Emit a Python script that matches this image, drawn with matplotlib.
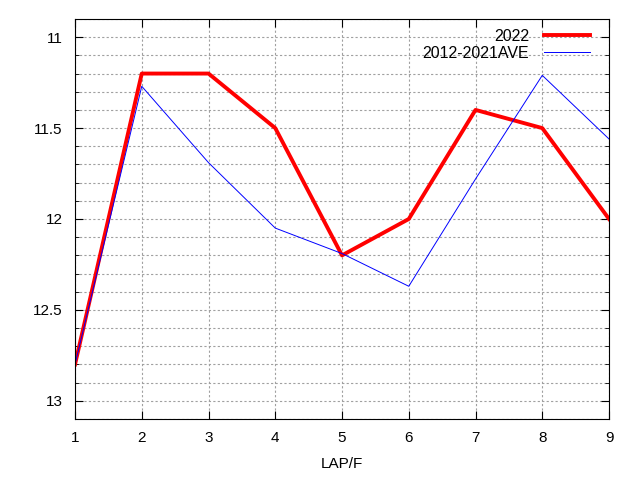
import matplotlib
matplotlib.use('Agg')
import matplotlib.pyplot as plt
from matplotlib.ticker import MultipleLocator, FuncFormatter

laps = [1, 2, 3, 4, 5, 6, 7, 8, 9]
y2022 = [12.8, 11.2, 11.2, 11.5, 12.2, 12.0, 11.4, 11.5, 12.0]
ave = [12.8, 11.27, 11.69, 12.05, 12.19, 12.37, 11.78, 11.21, 11.56]

plt.rcParams['font.family'] = ['Liberation Sans', 'DejaVu Sans']

fig = plt.figure(figsize=(6.4, 4.8), dpi=100)
ax = fig.add_axes([0.1172, 0.1271, 0.8344, 0.8333])

ax.plot(laps, y2022, color='red', linewidth=2.8, label='2022')
ax.plot(laps, ave, color='blue', linewidth=0.7, label='2012-2021AVE')

ax.set_xlim(1, 9)
ax.set_ylim(13.1, 10.9)
ax.set_xticks(laps)
ax.yaxis.set_major_locator(MultipleLocator(0.5))
ax.yaxis.set_minor_locator(MultipleLocator(0.1))
ax.yaxis.set_major_formatter(FuncFormatter(lambda v, p: '%g' % round(v, 1)))

# dotted grey grid like gnuplot
ax.grid(True, which='both', axis='y', linestyle=(0, (2, 2)), color='#a0a0a0', linewidth=0.8)
ax.grid(True, which='major', axis='x', linestyle=(0, (2, 2)), color='#a0a0a0', linewidth=0.8)

ax.tick_params(which='both', direction='in', top=True, right=True, labelsize=11, pad=9)
ax.tick_params(which='minor', length=3)
ax.tick_params(which='major', length=6)

ax.set_xlabel('LAP/F', fontsize=11, labelpad=8)

ax.legend(loc='upper right', frameon=False, markerfirst=False, fontsize=11.5,
          handlelength=2.9, handletextpad=0.9, borderpad=0, borderaxespad=0,
          labelspacing=0.1, bbox_to_anchor=(590 / 640, (480 - 29) / 480),
          bbox_transform=fig.transFigure)

fig.savefig('out.png', dpi=100)
